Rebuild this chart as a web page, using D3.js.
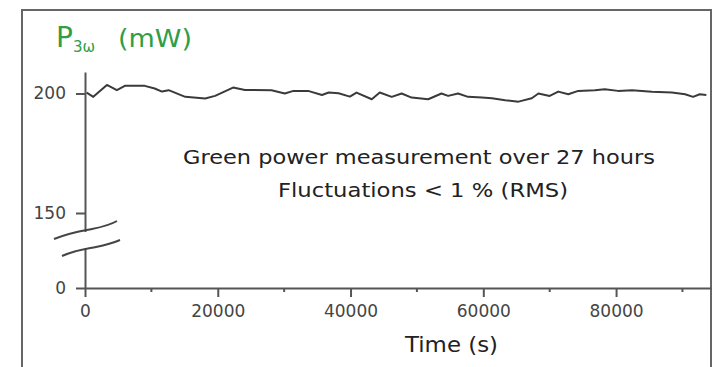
<!DOCTYPE html>
<html>
<head>
<meta charset="utf-8">
<script src="https://cdn.jsdelivr.net/npm/d3@7"></script>
<style>
  body { margin: 0; background: white; }
  svg { display: block; }
</style>
</head>
<body>
<div id="chart"></div>
<script>
const width = 714;
const height = 367;

// time in seconds, power in mW
const times = [250, 1250, 3300, 4800, 6000, 9000, 10500, 11600, 12600, 15100,
  18100, 19600, 22300, 24100, 28100, 30100, 31400, 33600, 35700, 36700,
  38200, 39900, 40900, 43200, 44400, 46200, 47700, 49200, 51700, 53700,
  54700, 56200, 57700, 59800, 61300, 63300, 65300, 67300, 68300, 70000,
  71300, 72800, 74300, 76800, 78300, 80300, 82400, 85400, 88400, 90400,
  91600, 92600, 93600];
const power = [200.4, 198.6, 203.6, 201.4, 203.2, 203.2, 202.1, 200.8, 201.4, 198.6,
  197.9, 199.0, 202.5, 201.5, 201.4, 200.0, 201.1, 201.1, 199.4, 200.4,
  200.1, 198.7, 200.4, 197.6, 200.4, 198.6, 200.0, 198.3, 197.6, 200.0,
  199.0, 200.0, 198.6, 198.3, 198.0, 197.2, 196.6, 198.0, 200.0, 199.0,
  200.8, 199.7, 201.1, 201.4, 201.8, 201.1, 201.4, 200.7, 200.4, 199.7,
  198.6, 199.7, 199.4];

const xMajorTicks = [0, 20000, 40000, 60000, 80000];
const xMinorTicks = [10000, 30000, 50000, 70000, 90000];
const yTicks = [0, 150, 200];

const data = times.map((t, i) => ({ t, p: power[i] }));

const svg = d3.select("#chart").append("svg")
  .attr("width", width)
  .attr("height", height);

// outer frame (bottom edge is off the picture)
svg.append("path")
  .attr("d", "M22,367 V10 H711 V367")
  .attr("fill", "none")
  .attr("stroke", "#666")
  .attr("stroke-width", 2);

const x = d3.scaleLinear().domain([0, 94300]).range([85, 711]);
// broken axis: 0..150 squeezed, 150..209 stretched
const y = d3.scaleLinear().domain([0, 150, 209]).range([288, 213, 72]);

const axisColor = "#555";
const tickFont = "'DejaVu Sans', sans-serif";

// x axis
const xAxis = svg.append("g")
  .attr("transform", "translate(0,288)")
  .call(d3.axisBottom(x).tickValues(xMajorTicks).tickSize(9).tickPadding(8).tickSizeOuter(0)
    .tickFormat(d3.format("d")));
xAxis.select(".domain").attr("stroke", axisColor).attr("stroke-width", 2);
xAxis.selectAll(".tick line").attr("stroke", axisColor).attr("stroke-width", 2);
xAxis.selectAll(".tick text")
  .attr("fill", "#444")
  .style("font-family", tickFont)
  .style("font-size", "17px");

svg.append("g")
  .attr("transform", "translate(0,288)")
  .selectAll("line")
  .data(xMinorTicks)
  .join("line")
  .attr("x1", d => x(d)).attr("x2", d => x(d))
  .attr("y1", 0).attr("y2", 4)
  .attr("stroke", axisColor)
  .attr("stroke-width", 2);

// y axis
const yAxis = svg.append("g")
  .attr("transform", "translate(85,0)")
  .call(d3.axisLeft(y).tickValues(yTicks).tickSize(9).tickPadding(10).tickSizeOuter(0));
yAxis.select(".domain").attr("stroke", axisColor).attr("stroke-width", 2);
yAxis.selectAll(".tick line").attr("stroke", axisColor).attr("stroke-width", 2);
yAxis.selectAll(".tick text")
  .attr("fill", "#444")
  .style("font-family", tickFont)
  .style("font-size", "17px");

// axis break
svg.append("rect")
  .attr("x", 78).attr("y", 232)
  .attr("width", 14).attr("height", 16)
  .attr("fill", "white");
svg.append("path")
  .attr("d", "M54,239 C72,232 82,231 92,229 C102,227 110,225 117,221")
  .attr("fill", "none").attr("stroke", "#444").attr("stroke-width", 2);
svg.append("path")
  .attr("d", "M62,256 C76,250 86,249 96,247 C106,245 113,243 120,240")
  .attr("fill", "none").attr("stroke", "#444").attr("stroke-width", 2);

// data line
const line = d3.line()
  .x(d => x(d.t))
  .y(d => y(d.p));

svg.append("path")
  .datum(data)
  .attr("d", line)
  .attr("fill", "none")
  .attr("stroke", "#3a3a3a")
  .attr("stroke-width", 2)
  .attr("stroke-linejoin", "round");

// y label
const labelFont = "'DejaVu Sans', sans-serif";
const yLabel = svg.append("text")
  .attr("x", 56)
  .attr("y", 47)
  .attr("fill", "#2f9e44")
  .style("font-family", labelFont);
yLabel.append("tspan").style("font-size", "28px").text("P");
yLabel.append("tspan").attr("dy", 5).style("font-size", "15px").text("3ω");
yLabel.append("tspan").attr("x", 118).attr("dy", -5).style("font-size", "25px")
  .attr("textLength", 74).attr("lengthAdjust", "spacingAndGlyphs").text("(mW)");

// annotation
svg.append("text")
  .attr("x", 183).attr("y", 164)
  .attr("fill", "#222")
  .style("font-family", labelFont)
  .style("font-size", "19px")
  .attr("textLength", 472)
  .attr("lengthAdjust", "spacingAndGlyphs")
  .text("Green power measurement over 27 hours");

svg.append("text")
  .attr("x", 278).attr("y", 197)
  .attr("fill", "#222")
  .style("font-family", labelFont)
  .style("font-size", "19px")
  .attr("textLength", 290)
  .attr("lengthAdjust", "spacingAndGlyphs")
  .text("Fluctuations < 1 %  (RMS)");

// x label
svg.append("text")
  .attr("x", 405).attr("y", 352)
  .attr("fill", "#222")
  .style("font-family", labelFont)
  .style("font-size", "21px")
  .attr("textLength", 93)
  .attr("lengthAdjust", "spacingAndGlyphs")
  .text("Time (s)");
</script>
</body>
</html>
